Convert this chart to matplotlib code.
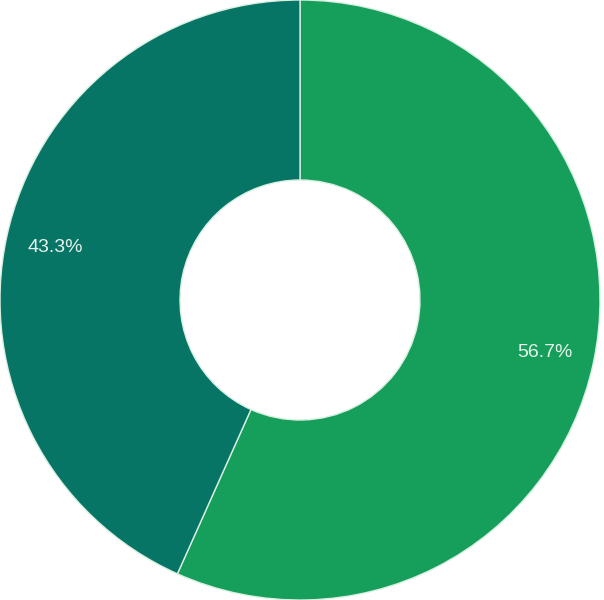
import matplotlib
matplotlib.use("Agg")
import matplotlib.pyplot as plt

labels = ["Group A", "Group B"]
shares = [56.7, 43.3]
colors = ["#159f5a", "#077565"]

fig = plt.figure(figsize=(6.04, 6.00), dpi=100)
ax = fig.add_axes([0, 0, 600 / 604, 1])

wedges, texts, autotexts = ax.pie(
    shares,
    colors=colors,
    startangle=90,
    counterclock=False,
    radius=1.0,
    autopct="%.1f%%",
    pctdistance=0.835,
    wedgeprops=dict(width=0.6, edgecolor="#d8efe2", linewidth=1.0),
    textprops=dict(color="#e6f3ec", fontsize=14, family="Liberation Sans"),
)

ax.set_xlim(-1.0, 1.0)
ax.set_ylim(-1.0, 1.0)
ax.set_aspect("equal")
ax.axis("off")

fig.savefig("out.png", dpi=100, facecolor="white")
